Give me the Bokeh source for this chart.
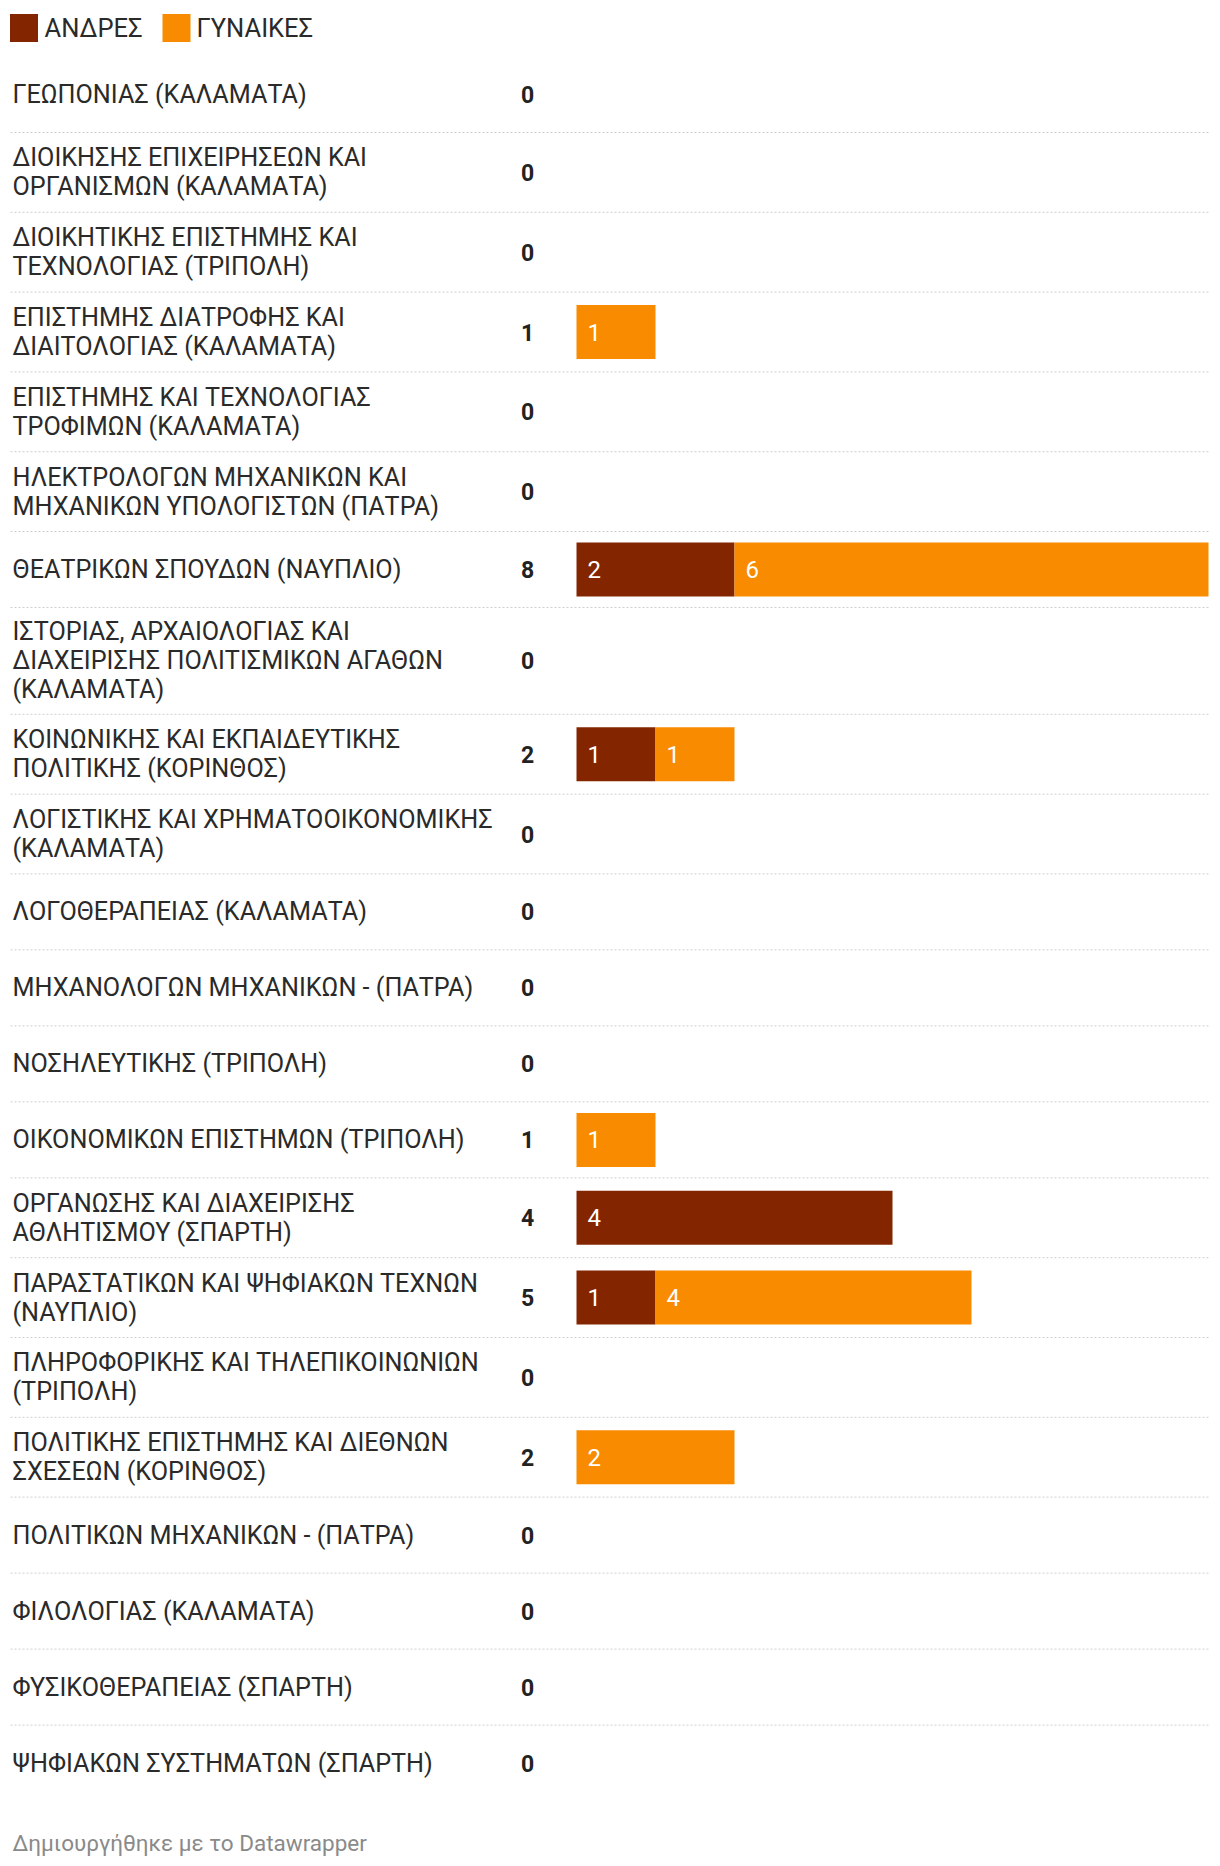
from bokeh.plotting import figure
from bokeh.models import Range1d, ColumnDataSource
from bokeh.core.properties import value
from bokeh.embed import file_html
from bokeh.resources import INLINE

categories = [
    "ΓΕΩΠΟΝΙΑΣ (ΚΑΛΑΜΑΤΑ)",
    "ΔΙΟΙΚΗΣΗΣ ΕΠΙΧΕΙΡΗΣΕΩΝ ΚΑΙ\nΟΡΓΑΝΙΣΜΩΝ (ΚΑΛΑΜΑΤΑ)",
    "ΔΙΟΙΚΗΤΙΚΗΣ ΕΠΙΣΤΗΜΗΣ ΚΑΙ\nΤΕΧΝΟΛΟΓΙΑΣ (ΤΡΙΠΟΛΗ)",
    "ΕΠΙΣΤΗΜΗΣ ΔΙΑΤΡΟΦΗΣ ΚΑΙ\nΔΙΑΙΤΟΛΟΓΙΑΣ (ΚΑΛΑΜΑΤΑ)",
    "ΕΠΙΣΤΗΜΗΣ ΚΑΙ ΤΕΧΝΟΛΟΓΙΑΣ\nΤΡΟΦΙΜΩΝ (ΚΑΛΑΜΑΤΑ)",
    "ΗΛΕΚΤΡΟΛΟΓΩΝ ΜΗΧΑΝΙΚΩΝ ΚΑΙ\nΜΗΧΑΝΙΚΩΝ ΥΠΟΛΟΓΙΣΤΩΝ (ΠΑΤΡΑ)",
    "ΘΕΑΤΡΙΚΩΝ ΣΠΟΥΔΩΝ (ΝΑΥΠΛΙΟ)",
    "ΙΣΤΟΡΙΑΣ, ΑΡΧΑΙΟΛΟΓΙΑΣ ΚΑΙ\nΔΙΑΧΕΙΡΙΣΗΣ ΠΟΛΙΤΙΣΜΙΚΩΝ ΑΓΑΘΩΝ\n(ΚΑΛΑΜΑΤΑ)",
    "ΚΟΙΝΩΝΙΚΗΣ ΚΑΙ ΕΚΠΑΙΔΕΥΤΙΚΗΣ\nΠΟΛΙΤΙΚΗΣ (ΚΟΡΙΝΘΟΣ)",
    "ΛΟΓΙΣΤΙΚΗΣ ΚΑΙ ΧΡΗΜΑΤΟΟΙΚΟΝΟΜΙΚΗΣ\n(ΚΑΛΑΜΑΤΑ)",
    "ΛΟΓΟΘΕΡΑΠΕΙΑΣ (ΚΑΛΑΜΑΤΑ)",
    "ΜΗΧΑΝΟΛΟΓΩΝ ΜΗΧΑΝΙΚΩΝ - (ΠΑΤΡΑ)",
    "ΝΟΣΗΛΕΥΤΙΚΗΣ (ΤΡΙΠΟΛΗ)",
    "ΟΙΚΟΝΟΜΙΚΩΝ ΕΠΙΣΤΗΜΩΝ (ΤΡΙΠΟΛΗ)",
    "ΟΡΓΑΝΩΣΗΣ ΚΑΙ ΔΙΑΧΕΙΡΙΣΗΣ\nΑΘΛΗΤΙΣΜΟΥ (ΣΠΑΡΤΗ)",
    "ΠΑΡΑΣΤΑΤΙΚΩΝ ΚΑΙ ΨΗΦΙΑΚΩΝ ΤΕΧΝΩΝ\n(ΝΑΥΠΛΙΟ)",
    "ΠΛΗΡΟΦΟΡΙΚΗΣ ΚΑΙ ΤΗΛΕΠΙΚΟΙΝΩΝΙΩΝ\n(ΤΡΙΠΟΛΗ)",
    "ΠΟΛΙΤΙΚΗΣ ΕΠΙΣΤΗΜΗΣ ΚΑΙ ΔΙΕΘΝΩΝ\nΣΧΕΣΕΩΝ (ΚΟΡΙΝΘΟΣ)",
    "ΠΟΛΙΤΙΚΩΝ ΜΗΧΑΝΙΚΩΝ - (ΠΑΤΡΑ)",
    "ΦΙΛΟΛΟΓΙΑΣ (ΚΑΛΑΜΑΤΑ)",
    "ΦΥΣΙΚΟΘΕΡΑΠΕΙΑΣ (ΣΠΑΡΤΗ)",
    "ΨΗΦΙΑΚΩΝ ΣΥΣΤΗΜΑΤΩΝ (ΣΠΑΡΤΗ)",
]
men   = [0, 0, 0, 0, 0, 0, 2, 0, 1, 0, 0, 0, 0, 0, 4, 1, 0, 0, 0, 0, 0, 0]
women = [0, 0, 0, 1, 0, 0, 6, 0, 1, 0, 0, 0, 0, 1, 0, 4, 0, 2, 0, 0, 0, 0]
series_names = ["ΑΝΔΡΕΣ", "ΓΥΝΑΙΚΕΣ"]
series_colors = ["#832600", "#f98b00"]
footer_text = "Δημιουργήθηκε με το Datawrapper"

FONT = value("Roboto")
W, H = 1212, 1860
PX = 79.0          # pixels per unit of value
BAR_X0 = 576       # pixel where bars start
X0 = -BAR_X0 / PX


def xd(px):
    return X0 + px / PX


p = figure(width=W, height=H, x_range=Range1d(X0, X0 + W / PX), y_range=Range1d(H, 0),
           output_backend="svg", toolbar_location=None, min_border=0,
           x_axis_location=None, y_axis_location=None)
p.grid.visible = False
p.outline_line_color = None
p.background_fill_color = "white"
p.border_fill_color = "white"

# row layout
n_lines = [c.count("\n") + 1 for c in categories]
heights = [max(76, 27 * n + 25.8) for n in n_lines]
tops = []
y = 56
for h in heights:
    tops.append(y)
    y += h
centers = [t + h / 2 for t, h in zip(tops, heights)]
bottoms = [t + h for t, h in zip(tops, heights)]
totals = [m + w for m, w in zip(men, women)]

# separators
sep_y = bottoms[:-1]
p.segment(x0=[xd(10)] * len(sep_y), x1=[xd(1210)] * len(sep_y), y0=sep_y, y1=sep_y,
          line_color="#cfcfcf", line_width=1, line_dash="2 2")

# bars
src = ColumnDataSource(dict(y=centers, men=men, women=women,
                            mw=[m + w for m, w in zip(men, women)],
                            zero=[0] * len(men)))
p.hbar(y="y", left="zero", right="men", height=54, source=src,
       fill_color=series_colors[0], line_color=None)
p.hbar(y="y", left="men", right="mw", height=54, source=src,
       fill_color=series_colors[1], line_color=None)

# labels
p.text(x=[xd(12)] * len(categories), y=centers, text=categories, text_font=FONT,
       text_font_size="25.2px", text_color="#2a2a2a", text_baseline="middle",
       text_align="left", text_line_height=1.0)

# totals
p.text(x=[xd(527)] * len(totals), y=centers, text=[str(t) for t in totals], text_font=FONT,
       text_font_size="23px", text_font_style="bold", text_color="#222222",
       text_baseline="middle", text_align="center")

# bar value labels
vx, vy, vt = [], [], []
for c, m, w in zip(centers, men, women):
    if m > 0:
        vx.append(0 + 11 / PX); vy.append(c); vt.append(str(m))
    if w > 0:
        vx.append(m + 11 / PX); vy.append(c); vt.append(str(w))
p.text(x=vx, y=vy, text=vt, text_font=FONT, text_font_size="24px", text_color="white",
       text_baseline="middle", text_align="left")

# legend
leg_sq_x = [xd(23.5), xd(176)]
leg_tx_x = [xd(44), xd(196)]
p.scatter(x=leg_sq_x, y=[27.5, 27.5], marker="square", size=28, fill_color=series_colors,
          line_color=None)
p.text(x=leg_tx_x, y=[27.5, 27.5], text=series_names, text_font=FONT, text_font_size="25.5px",
       text_color="#2a2a2a", text_baseline="middle", text_align="left")

# footer
p.text(x=[xd(12)], y=[1842], text=[footer_text], text_font=FONT, text_font_size="22.5px",
       text_color="#8a8a8a", text_baseline="middle", text_align="left")

open("out.html", "w").write(file_html(p, INLINE))
